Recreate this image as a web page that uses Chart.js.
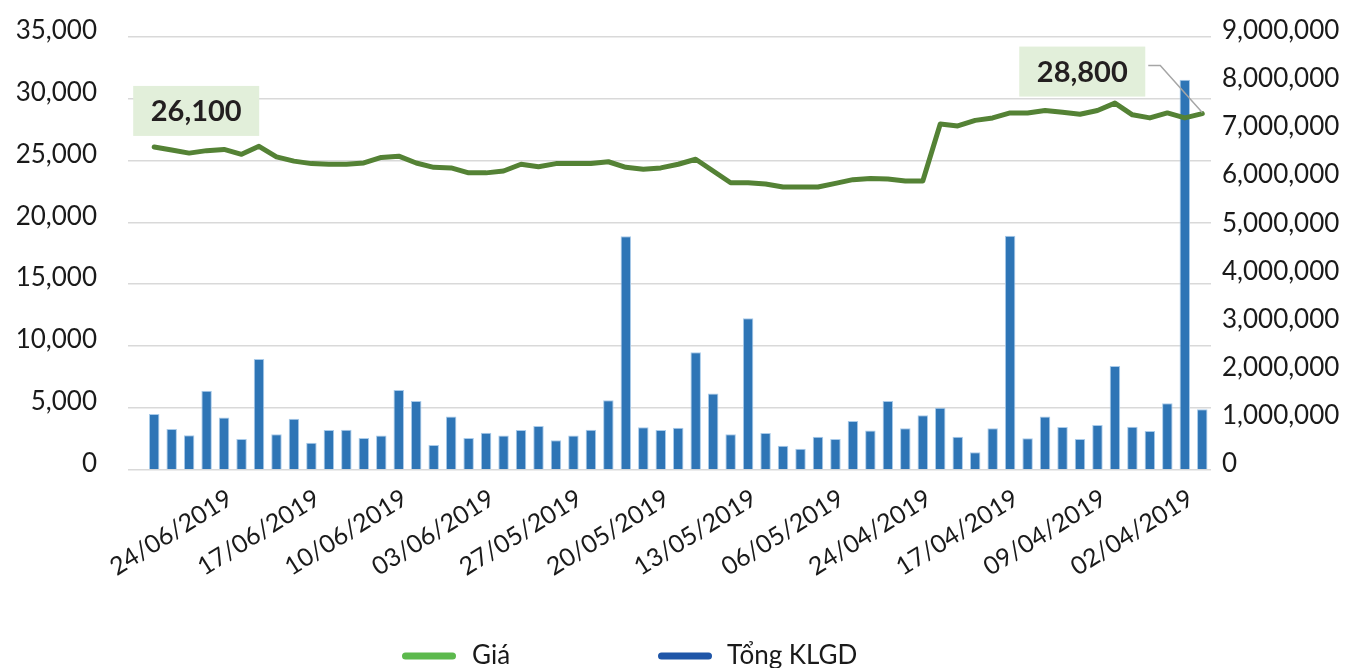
<!DOCTYPE html>
<html><head><meta charset="utf-8">
<script src="https://cdn.jsdelivr.net/npm/chart.js@4.4.0/dist/chart.umd.min.js"></script>
<style>html,body{margin:0;padding:0;background:#fff;overflow:hidden}#wrap{width:1359px;height:668px}</style>
</head><body><div id="wrap"><canvas id="c" width="1359" height="668"></canvas></div>
<script>
const dates = ['28/06/2019','27/06/2019','26/06/2019','25/06/2019','24/06/2019','21/06/2019','20/06/2019','19/06/2019','18/06/2019','17/06/2019',
'14/06/2019','13/06/2019','12/06/2019','11/06/2019','10/06/2019','07/06/2019','06/06/2019','05/06/2019','04/06/2019','03/06/2019',
'31/05/2019','30/05/2019','29/05/2019','28/05/2019','27/05/2019','24/05/2019','23/05/2019','22/05/2019','21/05/2019','20/05/2019',
'17/05/2019','16/05/2019','15/05/2019','14/05/2019','13/05/2019','10/05/2019','09/05/2019','08/05/2019','07/05/2019','06/05/2019',
'03/05/2019','02/05/2019','26/04/2019','25/04/2019','24/04/2019','23/04/2019','22/04/2019','19/04/2019','18/04/2019','17/04/2019',
'16/04/2019','12/04/2019','11/04/2019','10/04/2019','09/04/2019','08/04/2019','05/04/2019','04/04/2019','03/04/2019','02/04/2019','01/04/2019'];
const price = [26100,25850,25600,25800,25900,25500,26150,25300,24950,24750,
24700,24700,24800,25250,25350,24800,24450,24400,24000,24000,
24150,24700,24500,24750,24750,24750,24900,24450,24300,24400,
24700,25100,24150,23200,23200,23100,22850,22850,22850,23150,
23450,23550,23500,23350,23350,27950,27800,28250,28450,28850,
28850,29050,28900,28750,29050,29650,28700,28450,28850,28450,28800];
const volume = [1150000,840000,710000,1635000,1080000,630000,2295000,730000,1050000,555000,
820000,825000,650000,705000,1650000,1420000,505000,1100000,650000,760000,
705000,820000,900000,605000,705000,825000,1440000,4850000,875000,820000,
865000,2435000,1580000,730000,3145000,755000,490000,430000,680000,630000,
1005000,810000,1420000,855000,1125000,1280000,680000,355000,855000,4860000,
645000,1100000,880000,630000,920000,2150000,885000,795000,1375000,8110000,1250000];
const priceTicks = {min:0, max:35000, step:5000};
const volumeTicks = {min:0, max:9000000, step:1000000};
const seriesNames = ['Giá','Tổng KLGD'];
const legendColors = ['#5CB94D','#1F56A8'];

const FONT = 'Lato, "Noto Sans", sans-serif';
const labels = [''].concat(dates);
const fmt = v => Number(v).toLocaleString('en-US');
const noPad = s => { s.paddingTop = 0; s.paddingBottom = 0; s.paddingLeft = 0; s.paddingRight = 0; };

const labelPlugin = {
  id: 'priceLabels',
  afterDatasetsDraw(chart) {
    const meta = chart.getDatasetMeta(0);
    const ctx = chart.ctx;
    const pts = meta.data;
    const first = pts[1], last = pts[pts.length - 1];
    const bw = 126, bh = 50;
    function box(cx, cy, text) {
      ctx.fillStyle = '#E2EFDA';
      ctx.fillRect(cx - bw/2, cy - bh/2, bw, bh);
      ctx.fillStyle = '#231F20';
      ctx.font = 'bold 29px ' + FONT;
      ctx.textAlign = 'center';
      ctx.textBaseline = 'middle';
      ctx.fillText(text, cx, cy + 1);
    }
    ctx.save();
    box(first.x + 42, first.y - 36, fmt(price[0]));
    const cx = last.x - 120, cy = last.y - 42;
    ctx.strokeStyle = '#A6A6A6';
    ctx.lineWidth = 1.5;
    ctx.beginPath();
    ctx.moveTo(cx + bw/2 + 3, cy - 6);
    ctx.lineTo(cx + bw/2 + 15, cy - 6);
    ctx.lineTo(last.x, last.y - 1);
    ctx.stroke();
    box(cx, cy, fmt(price[price.length - 1]));
    ctx.restore();
  }
};

const legendPlugin = {
  id: 'bottomLegend',
  afterDraw(chart) {
    const ctx = chart.ctx;
    const y = 656;
    const items = [{x:405.5, tx:472}, {x:661.5, tx:727}];
    ctx.save();
    items.forEach((it, i) => {
      ctx.strokeStyle = legendColors[i];
      ctx.lineWidth = 7;
      ctx.lineCap = 'round';
      ctx.beginPath();
      ctx.moveTo(it.x, y);
      ctx.lineTo(it.x + 47, y);
      ctx.stroke();
      ctx.fillStyle = '#1a1a1a';
      ctx.font = '26px ' + FONT;
      ctx.textAlign = 'left';
      ctx.textBaseline = 'middle';
      ctx.fillText(seriesNames[i], it.tx, y);
    });
    ctx.restore();
  }
};

new Chart(document.getElementById('c'), {
  data: {
    labels: labels,
    datasets: [
      {type:'line', label:seriesNames[0], data:[null].concat(price), yAxisID:'y', borderColor:'#548235', borderWidth:5,
       pointRadius:0, tension:0, order:0, borderJoinStyle:'round', borderCapStyle:'round'},
      {type:'bar', label:seriesNames[1], data:[null].concat(volume), yAxisID:'y1', backgroundColor:'#2E75B6',
       borderColor:'#A9CBEA', borderWidth:1, barPercentage:0.6, categoryPercentage:1, order:1}
    ]
  },
  options: {
    responsive:false, animation:false,
    layout:{padding:{top:37, right:0, left:0, bottom:0}},
    plugins:{ tooltip:{enabled:false}, legend:{display:false} },
    scales:{
      x:{grid:{display:false, drawTicks:false}, border:{display:false},
        ticks:{autoSkip:false, maxRotation:32, minRotation:32, padding:14, labelOffset:6, color:'#1a1a1a', font:{family:FONT, size:25},
          callback:(v,i) => (i > 0 && i % 5 === 0) ? labels[i] : ''},
        afterFit: s => { s.height = 198.7; noPad(s); }},
      y:{position:'left', min:priceTicks.min, max:priceTicks.max,
        ticks:{stepSize:priceTicks.step, padding:31, labelOffset:-6, color:'#1a1a1a', font:{family:FONT, size:26}, callback:v => fmt(v)},
        grid:{color:'#D9D9D9', lineWidth:1.5, drawTicks:false}, border:{display:false},
        afterFit: s => { s.width = 128; noPad(s); }},
      y1:{position:'right', min:volumeTicks.min, max:volumeTicks.max,
        ticks:{stepSize:volumeTicks.step, padding:11, labelOffset:-6, color:'#1a1a1a', font:{family:FONT, size:26}, callback:v => fmt(v)},
        grid:{display:false, drawOnChartArea:false, drawTicks:false}, border:{display:false},
        afterFit: s => { s.width = 148; noPad(s); }}
    }
  },
  plugins:[labelPlugin, legendPlugin]
});
</script></body></html>
